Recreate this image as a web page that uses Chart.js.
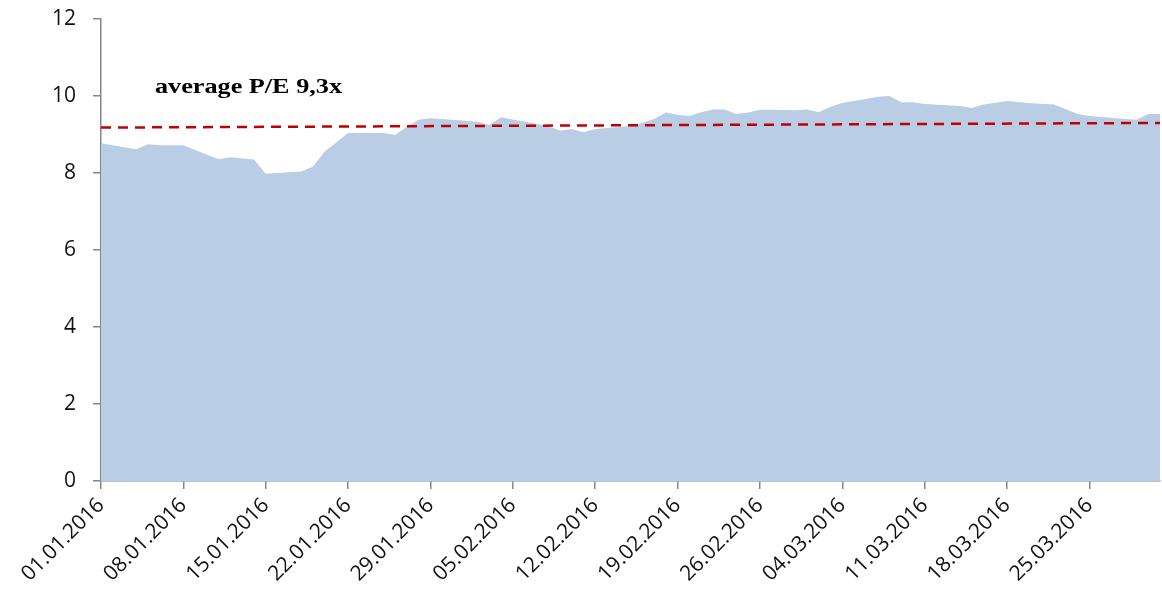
<!DOCTYPE html>
<html>
<head>
<meta charset="utf-8">
<script src="https://cdn.jsdelivr.net/npm/chart.js@4.4.1/dist/chart.umd.min.js"></script>
<style>
  html, body { margin: 0; padding: 0; background: #fff; }
  #wrap { width: 1162px; height: 605px; }
</style>
</head>
<body>
<div id="wrap"><canvas id="peChart"></canvas></div>
<script>
const fechas = ['01.01','04.01','05.01','06.01','08.01','11.01','12.01','14.01','15.01','18.01',
  '19.01','20.01','22.01','25.01','26.01','27.01','28.01','29.01','01.02','02.02',
  '03.02','04.02','05.02','08.02','09.02','10.02','11.02','12.02','15.02','16.02',
  '17.02','18.02','19.02','20.02','21.02','22.02','23.02','24.02','25.02','26.02',
  '27.02','29.02','01.03','02.03','03.03','04.03','06.03','07.03','08.03','09.03',
  '10.03','11.03','14.03','15.03','16.03','18.03','20.03','22.03','24.03','25.03',
  '27.03','29.03','30.03','31.03'];
const valoresPE = [8.77,8.62,8.75,8.72,8.72,8.36,8.41,8.35,7.98,8.04,
  8.16,8.55,9.04,9.04,8.99,9.20,9.38,9.42,9.36,9.33,
  9.25,9.45,9.39,9.22,9.10,9.14,9.06,9.14,9.22,9.30,
  9.40,9.57,9.51,9.48,9.58,9.65,9.65,9.53,9.57,9.64,
  9.64,9.63,9.65,9.58,9.72,9.82,9.92,9.98,10.0,9.84,
  9.84,9.79,9.74,9.69,9.78,9.87,9.81,9.78,9.53,9.48,
  9.43,9.38,9.53,9.53];
// línea de promedio (tendencia) inicio / fin
const fechasPromedio = ['01.01','31.03'];
const valoresPromedio = [9.18, 9.30];
const ticksY = [0, 2, 4, 6, 8, 10, 12];
const etiqueta = 'average P/E 9,3x';

const inicio = Date.UTC(2016, 0, 1);
function aDia(f) {
  const [d, m] = f.split('.').map(Number);
  return Math.round((Date.UTC(2016, m - 1, d) - inicio) / 86400000);
}
function aFecha(n) {
  const dt = new Date(inicio + n * 86400000);
  const dd = String(dt.getUTCDate()).padStart(2, '0');
  const mm = String(dt.getUTCMonth() + 1).padStart(2, '0');
  return dd + '.' + mm + '.' + dt.getUTCFullYear();
}

const fuenteEjes = { family: '"Open Sans", Lato, sans-serif', size: 21 };

const textoPlugin = {
  id: 'textoPromedio',
  afterDatasetsDraw(chart) {
    const c = chart.ctx;
    c.save();
    c.font = 'bold 22px "Liberation Serif", "Times New Roman", serif';
    c.fillStyle = '#000';
    c.textBaseline = 'alphabetic';
    // el texto original está algo más ancho
    const ancho = c.measureText(etiqueta).width;
    c.translate(155, 93);
    c.scale(187 / ancho, 1);
    c.fillText(etiqueta, 0, 0);
    c.restore();
  }
};

new Chart(document.getElementById('peChart'), {
  type: 'line',
  data: {
    datasets: [
      {
        label: 'P/E',
        data: fechas.map((f, i) => ({ x: aDia(f), y: valoresPE[i] })),
        backgroundColor: '#b9cde5',
        borderWidth: 0,
        pointRadius: 0,
        fill: 'origin',
        tension: 0,
        order: 2
      },
      {
        label: 'average',
        data: fechasPromedio.map((f, i) => ({ x: aDia(f), y: valoresPromedio[i] })),
        borderColor: '#c00000',
        borderWidth: 2.5,
        borderDash: [10, 7],
        pointRadius: 0,
        fill: false,
        order: 1
      }
    ]
  },
  options: {
    responsive: true,
    maintainAspectRatio: false,
    animation: false,
    layout: { padding: { top: 19, right: 2, left: 0, bottom: 0 } },
    plugins: { legend: { display: false }, tooltip: { enabled: false } },
    scales: {
      x: {
        type: 'linear',
        min: 0,
        max: 90,
        afterBuildTicks: s => { s.ticks = s.ticks.filter(t => t.value % 7 === 0 && t.value <= 84); },
        afterFit: s => { s.height = 124; },
        border: { color: '#868686', width: 1.5 },
        grid: { drawOnChartArea: false, drawTicks: true, tickLength: 8, color: '#868686', lineWidth: 1.5 },
        ticks: {
          stepSize: 7,
          autoSkip: false,
          minRotation: 45,
          maxRotation: 45,
          padding: 4,
          color: '#111',
          font: fuenteEjes,
          callback: v => aFecha(v)
        }
      },
      y: {
        min: 0,
        max: 12,
        afterBuildTicks: s => { s.ticks = ticksY.map(v => ({ value: v })); },
        afterFit: s => { s.width = 101; s.paddingTop = 0; s.paddingBottom = 0; },
        border: { color: '#868686', width: 1.5 },
        grid: { drawOnChartArea: false, drawTicks: true, tickLength: 8, color: '#868686', lineWidth: 1.5 },
        ticks: { padding: 17, color: '#111', font: fuenteEjes }
      }
    }
  },
  plugins: [textoPlugin]
});
</script>
</body>
</html>
